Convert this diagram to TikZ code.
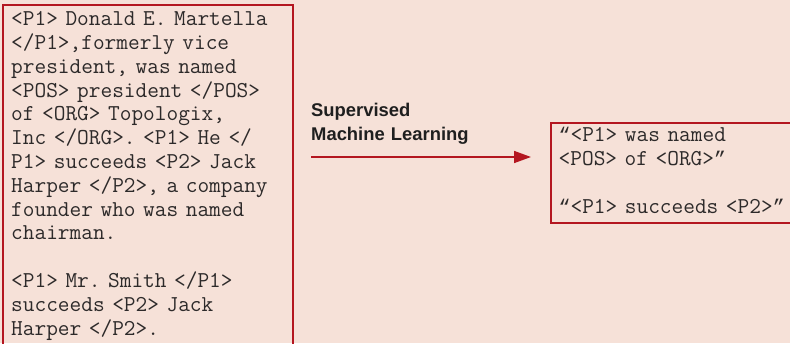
\documentclass[tikz,border=0pt]{standalone}
\usepackage{fontspec}
\setsansfont{Liberation Sans}
\newfontfamily\quotefont{Liberation Mono}
\usepackage{xcolor}
\usetikzlibrary{arrows.meta}
\usetikzlibrary{positioning}

\definecolor{paper}{RGB}{246,225,216}
\definecolor{rule}{RGB}{180,22,32}
\definecolor{ink}{RGB}{45,42,42}

\newcommand{\openq}{{\quotefont\fontsize{19.8}{23.8}\selectfont “}}
\newcommand{\closeq}{{\quotefont\fontsize{19.8}{23.8}\selectfont ”}}
\newcommand{\monospacing}{\spaceskip=\fontcharwd\font`\x\relax\xspaceskip=\spaceskip}

\tikzset{
  panel/.style={draw=rule, line width=2pt, inner sep=0pt, anchor=north west},
  snippet/.style={anchor=base west, inner sep=0pt, align=left, text=ink,
    font=\ttfamily\fontsize{22.7}{23.8}\selectfont\frenchspacing\monospacing},
  flow/.style={draw=rule, line width=1.6pt, -{Triangle[length=17pt,width=12pt]}}
}

\begin{document}
\begin{tikzpicture}[x=1pt, y=-1pt]
      \useasboundingbox (0,0) rectangle (790,343);
      \fill[paper] (0,0) rectangle (790,343);
      \clip (0,0) rectangle (790,343);

      \node[panel, minimum width=289.7pt, minimum height=380pt] (corpusbox) at (2,3.7) {};
      \node[panel, minimum width=280pt, minimum height=99.9pt] (patternbox) at (549.5,121.8) {};

      \node[snippet, text width=278pt] (corpus) at (11,25.7)
        {<P1> Donald E. Martella\\
         </P1>,formerly vice\\
         president, was named\\
         <POS> president </POS>\\
         of <ORG> Topologix,\\
         Inc </ORG>. <P1> He </\\
         P1> succeeds <P2> Jack\\
         Harper </P2>, a company\\
         founder who was named\\
         chairman.\\[23.8pt]
         <P1> Mr. Smith </P1>\\
         succeeds <P2> Jack\\
         Harper </P2>.};

      \node[snippet, text width=250pt] (patterns) at (558.5,141.7)
        {\openq<P1> was named\\
         <POS> of <ORG>\closeq\\[24pt]
         \openq<P1> succeeds <P2>\closeq};

      \node[anchor=base west, inner sep=0pt, align=left, text width=200pt, text=black!88,
        font=\sffamily\bfseries\fontsize{18.4}{24}\selectfont] (method) at (311,116)
        {Supervised\\Machine Learning};

      \coordinate (learnstart) at (311,157);
      \coordinate (learnend) at (531,157);
      \draw[flow] (learnstart) -- (learnend);
    \end{tikzpicture}
\end{document}
